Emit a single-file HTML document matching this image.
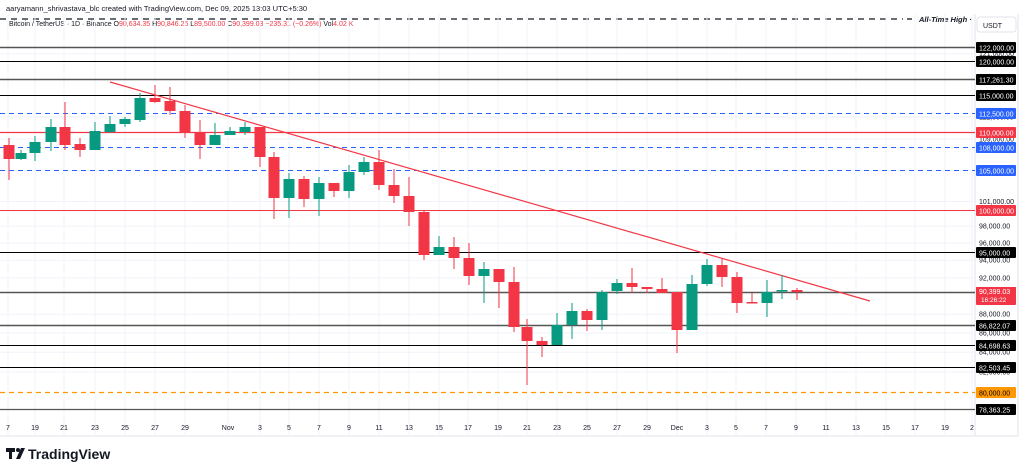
<!DOCTYPE html>
<html><head><meta charset="utf-8"><style>
html,body{margin:0;padding:0;background:#fff;width:1024px;height:470px;overflow:hidden;font-family:"Liberation Sans",sans-serif}
svg{display:block}
</style></head><body>
<svg id="s" width="1024" height="470" xmlns="http://www.w3.org/2000/svg" font-family="Liberation Sans, sans-serif">
<rect width="1024" height="470" fill="#fff"/>
<text x="6" y="11" font-size="7.5" fill="#131722">aaryamann_shrivastava_blc created with TradingView.com, Dec 09, 2025 13:03 UTC+5:30</text>
<line x1="0" y1="19" x2="903" y2="19" stroke="#131722" stroke-width="1.3" stroke-dasharray="6,5"/>
<line x1="907" y1="19" x2="912" y2="19" stroke="#131722" stroke-width="1.3"/>
<rect x="977" y="17" width="39" height="15" rx="3" fill="#fff" stroke="#e0e3eb"/>
<text x="983" y="28" font-size="7" fill="#131722">USDT</text>
<text x="919" y="22" font-size="7.5" font-style="italic" font-weight="bold" fill="#131722">All-Time High ·</text>
<text x="9" y="26" font-size="7" fill="#131722">Bitcoin / TetherUS · 1D · Binance <tspan>O</tspan><tspan fill="#f23645">90,634.35</tspan> H<tspan fill="#f23645">90,846.26</tspan> L<tspan fill="#f23645">89,500.00</tspan> C<tspan fill="#f23645">90,399.03  −235.31 (−0.26%)</tspan> Vol<tspan fill="#f23645">4.02 K</tspan></text>
<line x1="975" y1="14" x2="975" y2="436" stroke="#e0e3eb"/>
<line x1="0" y1="436" x2="1018" y2="436" stroke="#e0e3eb"/>
<line x1="1018" y1="14" x2="1018" y2="436" stroke="#e0e3eb"/>
<g id="grid"></g><g id="hl"></g>
<line x1="110" y1="82" x2="870" y2="301" stroke="#f23645" stroke-width="1.2"/>
<g id="cd"></g><g id="ax"></g>
<g transform="translate(6,445)">
<path d="M0 3h9v4h-3v7h-3v-7h-3z" fill="#131722"/><circle cx="12" cy="5" r="2" fill="#131722"/><path d="M15 3h4l-5 11h-4z" fill="#131722"/>
<text x="22" y="14" font-size="14" font-weight="bold" fill="#131722">TradingView</text></g>
</svg>
<script>
var NS="http://www.w3.org/2000/svg";
function el(p,t,a,tx){var e=document.createElementNS(NS,t);for(var k in a)e.setAttribute(k,a[k]);if(tx!==undefined)e.textContent=tx;document.getElementById(p).appendChild(e);return e;}
var xl=[[8,"7"],[35,"19"],[64,"21"],[95,"23"],[125,"25"],[155,"27"],[185,"29"],[228,"Nov"],[260,"3"],[289,"5"],[319,"7"],[349,"9"],[379,"11"],[409,"13"],[439,"15"],[468,"17"],[498,"19"],[527,"21"],[557,"23"],[587,"25"],[617,"27"],[647,"29"],[677,"Dec"],[707,"3"],[736,"5"],[766,"7"],[796,"9"],[826,"11"],[856,"13"],[886,"15"],[915,"17"],[945,"19"],[972,"2"]];
xl.forEach(function(l){el("grid","line",{x1:l[0],y1:14,x2:l[0],y2:436,stroke:"#f0f3fa"});el("ax","text",{x:l[0],y:430,"font-size":7,fill:"#131722","text-anchor":"middle"},l[1]);});
function Y(p){return 47+817.9*(Math.log(122000)-Math.log(p));}
[121000,112000,109000,101000,98000,96000,94000,92000,88000,86000,84000,82000].forEach(function(p){var y=Y(p);el("grid","line",{x1:0,y1:y,x2:975,y2:y,stroke:"#f0f3fa"});el("ax","text",{x:979,y:y+2.5,"font-size":7,fill:"#131722"},p.toLocaleString("en-US")+".00");});
var hl=[[122000,"#555",1.5,"","#000","122,000.00"],[120000,"#000",1,"","#000","120,000.00"],[117261.3,"#555",1.5,"","#000","117,261.30"],[115000,"#000",1,"","#000","115,000.00"],[112500,"#2962ff",1,"5,4","#2962ff","112,500.00"],[110000,"#f23645",1.2,"","#f23645","110,000.00"],[108000,"#2962ff",1,"5,4","#2962ff","108,000.00"],[105000,"#2962ff",1,"5,4","#2962ff","105,000.00"],[100000,"#f23645",1,"","#f23645","100,000.00"],[95000,"#000",1,"","#000","95,000.00"],[90401.21,"#555",1.5,"","#000","90,401.21"],[86822.07,"#555",1.5,"","#000","86,822.07"],[84698.63,"#000",1,"","#000","84,698.63"],[82503.45,"#000",1,"","#000","82,503.45"],[80000,"#ff9800",1.2,"5,4","#ff9800","80,000.00"],[78363.25,"#555",1.2,"","#000","78,363.25"]];
hl.forEach(function(h){var y=Math.round(Y(h[0]))+0.5;var a={x1:0,y1:y,x2:975,y2:y,stroke:h[1],"stroke-width":h[2]};if(h[3])a["stroke-dasharray"]=h[3];el("hl","line",a);
el("ax","rect",{x:976,y:y-5.5,width:40,height:11,rx:1,fill:h[4]});el("ax","text",{x:979,y:y+2.8,"font-size":7,fill:h[4]=="#ff9800"?"#000":"#fff"},h[5]);});
el("ax","rect",{x:976,y:287,width:40,height:18,rx:1,fill:"#f23645"});el("ax","text",{x:979,y:294,"font-size":7,fill:"#fff"},"90,399.03");el("ax","text",{x:981,y:302,"font-size":6.5,fill:"#fff"},"16:26:22");
var c=[[9,145,159,138,180],[21,159,153,150,160],[35,153,142,136,161],[51,142,127,119,151],[65,127,145,102,150],[80,144,150,138,157],[95,150,131,122,150],[110,132,124,116,133],[125,124,119,117,127],[140,120,98,93,122],[155,98,102,85,103],[170,101,111,87,115],[185,111,133,105,138],[200,132,145,120,159],[215,145,135,123,145],[230,135,131,127,135],[245,132,127,122,135],[260,127,157,127,167],[274,157,198,152,219],[289,198,179,173,218],[304,179,199,176,207],[319,199,183,177,216],[334,183,191,183,197],[349,191,172,165,198],[364,172,162,157,175],[379,162,185,150,190],[394,185,196,169,203],[409,196,212,177,226],[424,212,255,210,260],[439,255,247,236,255],[454,247,258,237,269],[469,258,276,243,285],[484,276,269,262,303],[499,269,282,269,308],[514,282,327,267,332],[527,327,341,319,385],[542,341,345,337,357],[557,345,325,313,345],[572,325,311,303,339],[587,311,320,309,331],[602,320,292,290,330],[617,291,283,279,294],[632,283,287,268,293],[647,287,289,287,293],[662,289,293,278,293],[677,292,330,292,353],[692,330,284,275,330],[707,284,265,259,286],[722,265,277,259,287],[737,277,303,272,313],[752,302,303,293,303],[767,303,292,280,317],[782,291,290,275,299],[797,290,292,288,300]];
c.forEach(function(d){var up=d[2]<d[1],col=up?"#089981":"#f23645";var t=Math.min(d[1],d[2]),b=Math.max(d[1],d[2]);
el("cd","line",{x1:d[0],y1:d[3],x2:d[0],y2:d[4],stroke:col,"stroke-width":1});
el("cd","rect",{x:d[0]-5.5,y:t,width:11,height:Math.max(1.5,b-t),fill:col});});
</script>
</body></html>
